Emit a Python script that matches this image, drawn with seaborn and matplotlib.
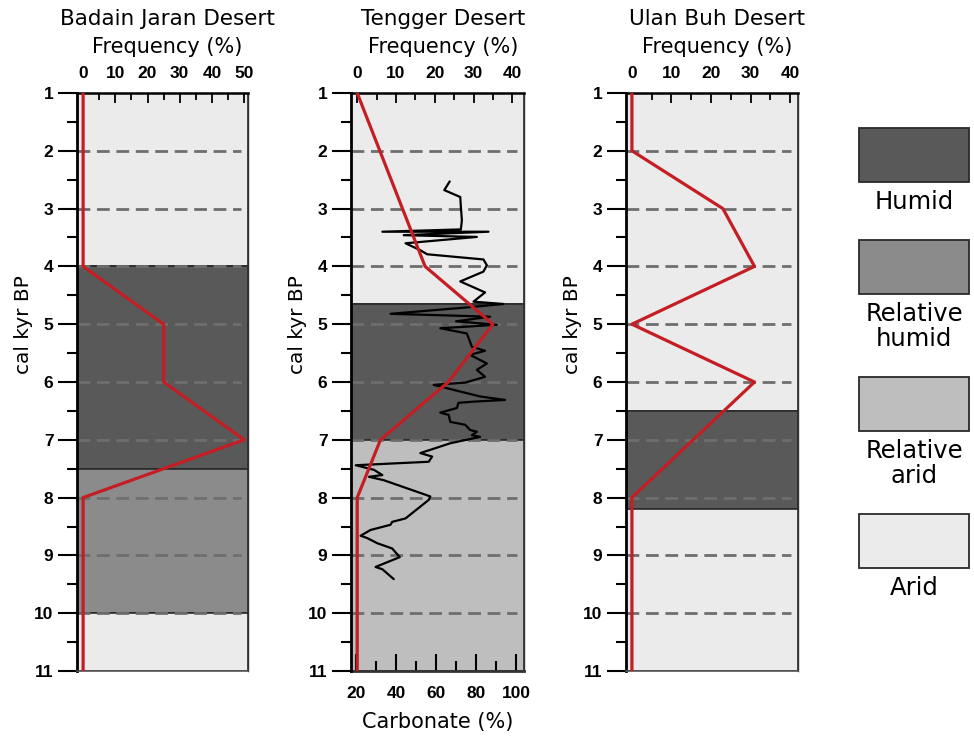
import matplotlib
matplotlib.use("Agg")
import matplotlib.pyplot as plt
from matplotlib.patches import Rectangle
from matplotlib.ticker import MultipleLocator
import seaborn as sns

# ---------------------------------------------------------------------------
# Data
# ---------------------------------------------------------------------------
STATE_LABELS = ["Humid", "Relative\nhumid", "Relative\narid", "Arid"]
STATE_COLORS = ["#595959", "#8b8b8b", "#bebebe", "#ebebeb"]

PANEL_TITLES = ["Badain Jaran Desert", "Tengger Desert", "Ulan Buh Desert"]

# zone boundaries (cal kyr BP) and climate state of each zone
BADAIN_EDGES = [1, 4.0, 7.5, 10.0, 11]
BADAIN_STATES = ["Arid", "Humid", "Relative\nhumid", "Arid"]
TENGGER_EDGES = [1, 4.65, 7.0, 11]
TENGGER_STATES = ["Arid", "Humid", "Relative\narid"]
ULANBUH_EDGES = [1, 6.5, 8.2, 11]
ULANBUH_STATES = ["Arid", "Humid", "Arid"]

# frequency curves (%)
BADAIN_AGE = [1, 4, 5, 6, 7, 8, 11]
BADAIN_FREQ = [0, 0, 25, 25, 50, 0, 0]
TENGGER_AGE = [1, 4, 5, 6, 7, 8, 11]
TENGGER_FREQ = [0, 17.5, 35, 23.5, 6, 0, 0]
ULANBUH_AGE = [1, 2, 3, 4, 5, 6, 8, 11]
ULANBUH_FREQ = [0, 0, 23, 31, 0, 31, 0, 0]

# Tengger carbonate record (%)
CARB_AGE = [2.53, 2.68, 2.80, 2.97, 3.20, 3.36, 3.40, 3.40, 3.46, 3.49,
            3.60, 3.72, 3.79, 3.88, 3.98, 4.09, 4.26, 4.45, 4.61, 4.65,
            4.71, 4.82, 4.87, 4.95, 5.01, 5.07, 5.16, 5.39, 5.46, 5.53,
            5.68, 5.79, 5.91, 6.01, 6.05, 6.25, 6.31, 6.34, 6.36, 6.45,
            6.53, 6.57, 6.69, 6.74, 6.83, 6.86, 6.92, 6.95, 7.06, 7.23,
            7.29, 7.38, 7.44, 7.52, 7.61, 7.64, 7.70, 7.98, 8.04, 8.36,
            8.42, 8.47, 8.56, 8.66, 8.70, 8.79, 8.88, 9.03, 9.20, 9.24,
            9.41]
CARB_PCT = [66.8, 64.1, 72.1, 72.4, 72.9, 72.4, 33.1, 86.2, 43.8, 80.4,
            44.7, 52.1, 55.5, 83.7, 85.4, 83.7, 72.1, 84.5, 78.7, 93.7,
            75.4, 37.2, 87.0, 70.0, 90.4, 62.1, 75.4, 77.9, 84.5, 77.0,
            85.4, 80.4, 84.5, 74.6, 58.8, 82.0, 94.5, 78.7, 71.2, 70.4,
            62.1, 66.3, 67.1, 74.6, 77.0, 80.4, 77.9, 82.0, 67.1, 52.1,
            58.0, 56.3, 19.8, 28.9, 33.1, 26.4, 33.9, 57.1, 56.3, 44.7,
            38.0, 37.2, 27.2, 22.2, 25.5, 30.6, 38.0, 41.8, 29.7, 33.1,
            38.8]

# ---------------------------------------------------------------------------
# Style
# ---------------------------------------------------------------------------
W, H = 974, 737
RED = "#c41e24"
GRID_GRAY = "#6e6e6e"
TICK_FONT = dict(fontweight="bold", fontfamily="Liberation Sans", fontsize=12.5)
STATE_COLOR = dict(zip(STATE_LABELS, STATE_COLORS))

sns.set_theme(style="ticks")
plt.rcParams["font.family"] = ["DejaVu Sans"]
plt.rcParams.update({
    "axes.edgecolor": "black",
    "text.color": "black",
    "axes.labelcolor": "black",
    "xtick.color": "black",
    "ytick.color": "black",
})


def px_axes(fig, left, right, top=93, bottom=671):
    return fig.add_axes([left / W, 1 - bottom / H, (right - left) / W, (bottom - top) / H])


def draw_zones(ax, edges, states):
    for top, bot, state in zip(edges[:-1], edges[1:], states):
        ax.axhspan(top, bot, facecolor=STATE_COLOR[state], edgecolor="#2a2a2a",
                   lw=1.2, zorder=0)
    for a in range(2, 11):
        ax.axhline(a, xmin=0.0, xmax=0.96, color=GRID_GRAY, lw=2.0,
                   ls=(0, (4.6, 2.4)), zorder=1)


def style_axes(ax, xlim, xmax, title):
    ax.set_xlim(*xlim)
    ax.set_ylim(11, 1)
    ax.set_yticks(range(1, 12), labels=[str(i) for i in range(1, 12)], **TICK_FONT)
    ax.yaxis.set_minor_locator(MultipleLocator(0.5))
    ax.tick_params(axis="y", which="major", direction="out", length=14, width=1.5,
                   pad=3, left=True)
    ax.tick_params(axis="y", which="minor", direction="out", length=7, width=1.5,
                   left=True)
    ax.xaxis.tick_top()
    xt = list(range(0, xmax + 1, 10))
    ax.set_xticks(xt, labels=[str(v) for v in xt], **TICK_FONT)
    ax.xaxis.set_minor_locator(MultipleLocator(5))
    ax.tick_params(axis="x", which="major", direction="in", length=7, width=1.3,
                   pad=9, top=True, bottom=False)
    ax.tick_params(axis="x", which="minor", direction="in", length=5, width=1.3,
                   top=True, bottom=False)
    ax.set_ylabel("cal kyr BP", fontsize=14.5)
    ax.yaxis.set_label_coords(-0.255, 0.60)
    ax.set_xlabel("")
    ax.spines["left"].set_linewidth(2.0)
    ax.spines["top"].set_linewidth(1.8)
    ax.spines["right"].set_linewidth(1.0)
    ax.spines["right"].set_color("#333333")
    ax.spines["bottom"].set_linewidth(1.2)
    ax.spines["bottom"].set_color("#555555")
    ax.text(0.53, 1.128, title, transform=ax.transAxes, ha="center", va="center",
            fontsize=15.5)
    ax.text(0.53, 1.079, "Frequency (%)", transform=ax.transAxes, ha="center",
            va="center", fontsize=15)


fig = plt.figure(figsize=(W / 100, H / 100), dpi=100)

# --- Badain Jaran ---
ax1 = px_axes(fig, 77, 248)
draw_zones(ax1, BADAIN_EDGES, BADAIN_STATES)
sns.lineplot(x=BADAIN_FREQ, y=BADAIN_AGE, sort=False, estimator=None, color=RED,
             lw=2.3, ax=ax1, zorder=3, legend=False)
style_axes(ax1, (-1.9, 51.2), 50, PANEL_TITLES[0])

# --- Tengger ---
ax2 = px_axes(fig, 351, 524)
carb = ax2.twiny()
ax2.set_zorder(carb.get_zorder() + 1)
ax2.patch.set_visible(False)
draw_zones(carb, TENGGER_EDGES, TENGGER_STATES)
sns.lineplot(x=CARB_PCT, y=CARB_AGE, sort=False, estimator=None, color="black",
             lw=1.6, ax=carb, zorder=2, legend=False)
sns.lineplot(x=TENGGER_FREQ, y=TENGGER_AGE, sort=False, estimator=None, color=RED,
             lw=2.3, ax=ax2, zorder=3, legend=False)
style_axes(ax2, (-1.6, 43.0), 40, PANEL_TITLES[1])
carb.set_xlim(17.4, 104.0)
carb.set_ylim(11, 1)
carb.xaxis.tick_bottom()
carb.xaxis.set_label_position("bottom")
ct = list(range(20, 101, 20))
carb.set_xticks(ct, labels=[str(v) for v in ct], **TICK_FONT)
carb.xaxis.set_minor_locator(MultipleLocator(10))
carb.tick_params(axis="x", which="major", direction="in", length=12, width=1.5,
                 pad=11, bottom=True, top=False)
carb.tick_params(axis="x", which="minor", direction="in", length=7, width=1.5,
                 bottom=True, top=False)
carb.set_xlabel("Carbonate (%)", fontsize=15, labelpad=8)
carb.set_ylabel("")
carb.tick_params(axis="y", left=False, right=False, labelleft=False)
carb.spines["bottom"].set_linewidth(2.0)
carb.spines["bottom"].set_color("#333333")
ax2.spines["bottom"].set_visible(False)
for s in ("top", "left", "right"):
    carb.spines[s].set_visible(False)

# --- Ulan Buh ---
ax3 = px_axes(fig, 626, 798)
draw_zones(ax3, ULANBUH_EDGES, ULANBUH_STATES)
sns.lineplot(x=ULANBUH_FREQ, y=ULANBUH_AGE, sort=False, estimator=None, color=RED,
             lw=2.3, ax=ax3, zorder=3, legend=False)
style_axes(ax3, (-1.5, 42.0), 40, PANEL_TITLES[2])

# --- legend (boxes with labels underneath) ---
lg = fig.add_axes([0, 0, 1, 1], zorder=-1)
lg.set_xlim(0, W)
lg.set_ylim(H, 0)
lg.axis("off")
box_left, box_w, box_h = 859, 110, 54
top = 128
for label, color in zip(STATE_LABELS, STATE_COLORS):
    lg.add_patch(Rectangle((box_left, top), box_w, box_h, facecolor=color,
                           edgecolor="#2a2a2a", lw=1.3))
    lg.text(box_left + box_w / 2, top + box_h + 8, label, ha="center", va="top",
            fontsize=17.5, linespacing=1.05)
    top += box_h + 58 + 25 * label.count("\n")

fig.savefig("out.png", dpi=100)
